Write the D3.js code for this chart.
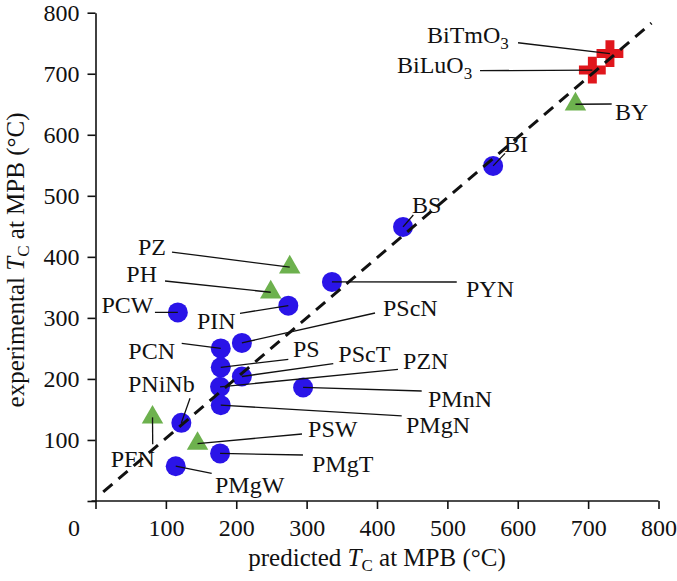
<!DOCTYPE html>
<html>
<head>
<meta charset="utf-8">
<script src="https://cdn.jsdelivr.net/npm/d3@7/dist/d3.min.js"></script>
<style>
  html, body { margin: 0; padding: 0; background: #fff; }
  svg { display: block; }
  text { font-family: "Liberation Serif", "DejaVu Serif", serif; fill: #111; }
</style>
</head>
<body>
<svg id="chart" width="677" height="581"></svg>
<script>
// ---- data (values in °C) ----
const circleNames = ["PCW","PIN","PYN","PScN","PCN","PS","PScT","PZN","PMnN","PMgN","PNiNb","PMgT","PMgW","BS","BI"];
const circlePred  = [117, 274, 336, 208, 178, 178, 208, 177, 295, 178, 122, 177, 114, 437, 565];
const circleExp   = [309, 320, 359, 259, 250, 219, 204, 187, 186, 157, 128, 78, 57, 449, 549];

const triNames = ["PZ","PH","PFN","PSW","BY"];
const triPred  = [276, 249, 81, 145, 682];
const triExp   = [383, 342, 137, 94, 650];

const crossNames = ["BiTmO3","BiLuO3"];
const crossPred  = [731, 706];
const crossExp   = [733, 706];

const diagLine = [[11, 15], [790, 783]];

const xTicks = [0,100,200,300,400,500,600,700,800];
const yTicks = [0,100,200,300,400,500,600,700,800];

// label annotations (data units): text anchor point and leader start
const labelNames  = ["PZ","PH","PCW","PIN","PCN","PS","PScN","PScT","PZN","PMnN","PMgN","PNiNb","PFN","PSW","PMgT","PMgW","PYN","BS","BI","BY","BiTmO3","BiLuO3"];
const labelX      = [100.2, 87.4, 82.4, 144.2, 113.0, 280.6, 408.5, 345.0, 437.0, 472.5, 441.2, 46.2, 21.6, 302.0, 307.6, 169.8, 526.5, 449.7, 580.5, 738.2, 471.0, 428.4];
const labelY      = [403.0, 358.8, 308.8, 281.8, 232.6, 236.4, 303.9, 227.3, 216.3, 153.2, 110.6, 177.8, 55.2, 104.8, 46.7, 13.1, 334.2, 472.6, 572.2, 623.4, 751.1, 700.4];
const labelAnchor = ["end","end","end","start","end","start","start","start","start","start","start","start","start","start","start","start","start","start","start","start","start","start"];
const leaderX     = [108.7, 98.8, 84.5, 205.3, 122.5, 274.0, 397.2, 337.9, 429.8, 463.5, 435.1, 134.3, 81.3, 293.4, 294.8, 165.1, 513.3, 451.6, 581.9, 733.5, 600.4, 546.4];
const leaderY     = [407.9, 360.4, 309.1, 307.5, 258.4, 232.1, 308.0, 225.2, 215.8, 180.2, 139.3, 168.3, 92.9, 109.8, 75.4, 45.4, 358.8, 468.5, 569.6, 650.4, 750.8, 705.0];

// ---- drawing ----
const svg = d3.select("#chart");
const x = d3.scaleLinear().domain([0, 800]).range([95.5, 658.5]);
const y = d3.scaleLinear().domain([0, 800]).range([501, 12.7]);

const allPoints = [];
circleNames.forEach((n,i)=>allPoints.push({name:n, px:circlePred[i], py:circleExp[i], kind:"circle"}));
triNames.forEach((n,i)=>allPoints.push({name:n, px:triPred[i], py:triExp[i], kind:"tri"}));
crossNames.forEach((n,i)=>allPoints.push({name:n, px:crossPred[i], py:crossExp[i], kind:"cross"}));
const byName = {};
allPoints.forEach(p => byName[p.name] = p);

// axes
const xAxis = d3.axisBottom(x).tickValues(xTicks).tickSize(8).tickSizeOuter(0).tickPadding(10);
const yAxis = d3.axisLeft(y).tickValues(yTicks).tickSize(8).tickSizeOuter(0).tickPadding(8);

const gx = svg.append("g").attr("transform", `translate(0,${y(0)})`).call(xAxis);
const gy = svg.append("g").attr("transform", `translate(${x(0)},0)`).call(yAxis);
[gx, gy].forEach(g => {
  g.select(".domain").attr("stroke", "#111").attr("stroke-width", 1.6);
  g.selectAll(".tick line").attr("stroke", "#111").attr("stroke-width", 1.6);
  g.selectAll(".tick text").attr("font-size", 24).attr("font-family", "Liberation Serif").attr("fill", "#111");
});
// y axis: no "0" label
gy.selectAll(".tick text").filter(d => d === 0).remove();
// x axis: origin label shifted left
gx.selectAll(".tick text").filter(d => d === 0).attr("x", -22);
// y-axis extends slightly below, x-axis domain overlaps
gx.select(".domain").attr("d", `M${x(0)-4},0H${x(800)}`);

// markers
const markers = svg.append("g");
markers.selectAll("circle.pt").data(allPoints.filter(p=>p.kind==="circle")).join("circle")
  .attr("class","pt")
  .attr("cx", d => x(d.px)).attr("cy", d => y(d.py)).attr("r", 10)
  .attr("fill", "#2a14e8");
markers.selectAll("path.tri").data(allPoints.filter(p=>p.kind==="tri")).join("path")
  .attr("class","tri")
  .attr("d", d3.symbol().type(d3.symbolTriangle).size(200))
  .attr("transform", d => `translate(${x(d.px)},${y(d.py)})`)
  .attr("fill", "#6db14e");
markers.selectAll("path.cross").data(allPoints.filter(p=>p.kind==="cross")).join("path")
  .attr("class","cross")
  .attr("d", d3.symbol().type(d3.symbolCross).size(400))
  .attr("transform", d => `translate(${x(d.px)},${y(d.py)})`)
  .attr("fill", "#e0161c");

// dashed diagonal
svg.append("path")
  .datum(diagLine)
  .attr("d", d3.line().x(d => x(d[0])).y(d => y(d[1])))
  .attr("fill", "none").attr("stroke", "#111").attr("stroke-width", 3)
  .attr("stroke-dasharray", "12,8");

// leader lines
const labels = labelNames.map((n,i)=>({name:n, lx:labelX[i], ly:labelY[i], anchor:labelAnchor[i], sx:leaderX[i], sy:leaderY[i], target:byName[n]}));
svg.append("g").selectAll("line").data(labels).join("line")
  .attr("x1", d => x(d.sx)).attr("y1", d => y(d.sy))
  .attr("x2", d => x(d.target.px)).attr("y2", d => y(d.target.py))
  .attr("stroke", "#111").attr("stroke-width", 1.3);

// label text
const lt = svg.append("g").selectAll("text").data(labels).join("text")
  .attr("x", d => x(d.lx)).attr("y", d => y(d.ly))
  .attr("text-anchor", d => d.anchor)
  .attr("font-size", 24);
lt.each(function(d){
  const t = d3.select(this);
  const m = d.name.match(/^(.*?)(\d+)$/);
  if (m && d.name.startsWith("Bi")) {
    t.append("tspan").text(m[1]);
    t.append("tspan").attr("dy", 6).attr("font-size", 17).text(m[2]);
  } else {
    t.text(d.name);
  }
});

// axis titles
const xt = svg.append("text").attr("x", 377).attr("y", 566).attr("text-anchor", "middle").attr("font-size", 25);
xt.append("tspan").text("predicted ");
xt.append("tspan").attr("font-style", "italic").text("T");
xt.append("tspan").attr("dy", 5).attr("font-size", 17).text("C");
xt.append("tspan").attr("dy", -5).text(" at MPB (°C)");

const yt = svg.append("text").attr("transform", "translate(24,260) rotate(-90)").attr("text-anchor", "middle").attr("font-size", 25);
yt.append("tspan").text("experimental ");
yt.append("tspan").attr("font-style", "italic").text("T");
yt.append("tspan").attr("dy", 5).attr("font-size", 17).text("C");
yt.append("tspan").attr("dy", -5).text(" at MPB (°C)");
</script>
</body>
</html>
